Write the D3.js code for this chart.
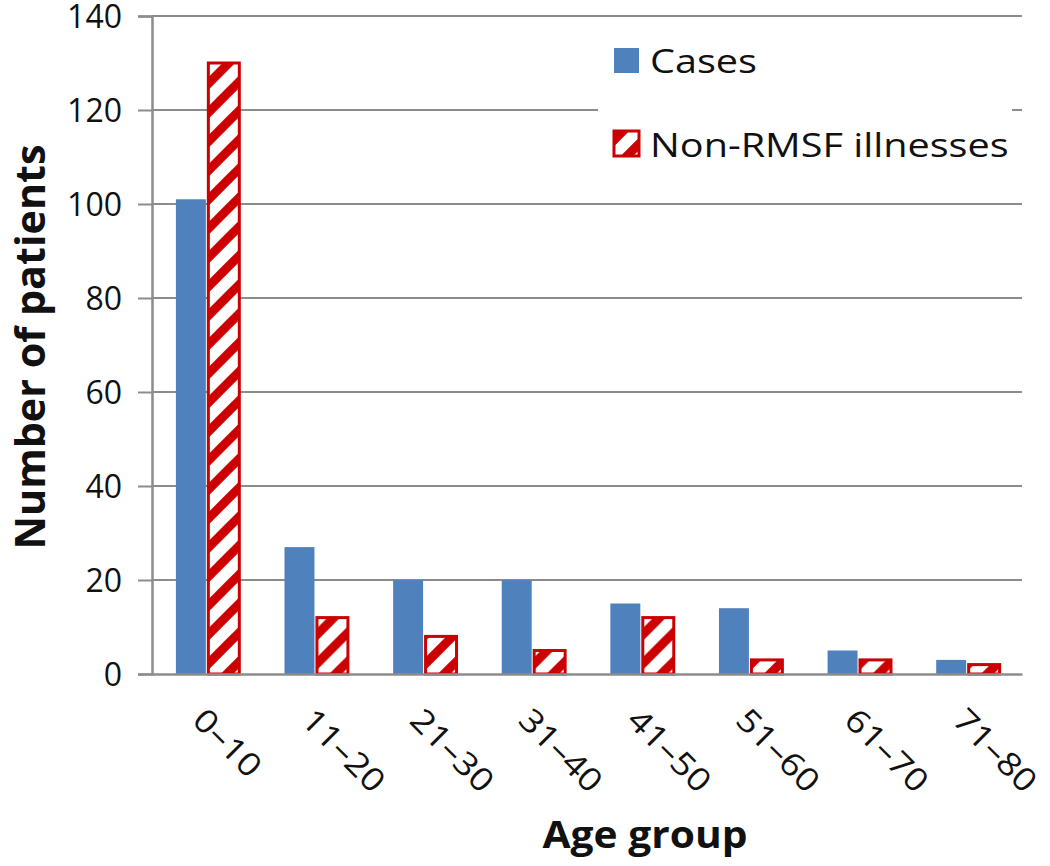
<!DOCTYPE html>
<html>
<head>
<meta charset="utf-8">
<script src="https://d3js.org/d3.v7.min.js"></script>
<style>
  body { margin: 0; background: #fff; }
  svg text { font-family: "Open Sans", sans-serif; fill: #111; }
</style>
</head>
<body>
<svg id="chart" width="1050" height="866"></svg>
<script>
// data
var ageGroups = ["0\u201310", "11\u201320", "21\u201330", "31\u201340", "41\u201350", "51\u201360", "61\u201370", "71\u201380"];
var cases = [101, 27, 20, 20, 15, 14, 5, 3];
var nonRmsf = [130, 12, 8, 5, 12, 3, 3, 2];
var seriesNames = ["Cases", "Non-RMSF illnesses"];
var yTicks = [0, 20, 40, 60, 80, 100, 120, 140];

var svg = d3.select("#chart");
var m = {left: 152, right: 1022, top: 16, bottom: 674};
var widen = 1.15;   // the reference font runs a bit wider than Open Sans

var x = d3.scaleBand().domain(ageGroups).range([m.left, m.right]).paddingInner(0.43).paddingOuter(0.22);
var x1 = d3.scaleBand().domain(seriesNames).range([0, x.bandwidth()]);
var y = d3.scaleLinear().domain([0, 140]).range([m.bottom, m.top]);

// hatch pattern for non-RMSF bars
var defs = svg.append("defs");
var pat = defs.append("pattern")
    .attr("id", "hatch")
    .attr("patternUnits", "userSpaceOnUse")
    .attr("width", 29).attr("height", 29);
pat.append("rect").attr("width", 29).attr("height", 29).attr("fill", "#fff");
pat.append("path")
    .attr("d", "M-8,37 L37,-8 M-22,22 L22,-22 M7,51 L51,7")
    .attr("stroke", "#cc0000").attr("stroke-width", 9);

// gridlines
svg.append("g")
  .selectAll("line")
  .data(yTicks.slice(1))
  .enter().append("line")
    .attr("x1", m.left).attr("x2", m.right)
    .attr("y1", function(d) { return y(d); })
    .attr("y2", function(d) { return y(d); })
    .attr("stroke", "#8c8c8c").attr("stroke-width", 2);

// y axis
var yAxis = svg.append("g")
    .attr("transform", "translate(" + m.left + ",0)")
    .call(d3.axisLeft(y).tickValues(yTicks).tickSize(14).tickPadding(16));
yAxis.select(".domain").attr("stroke", "#8c8c8c").attr("stroke-width", 2.5);
yAxis.selectAll(".tick line").attr("stroke", "#8c8c8c").attr("stroke-width", 2);
yAxis.selectAll("text").style("font-size", "32px").attr("fill", "#111").attr("dy", "0.36em");

// bars
var groups = svg.append("g")
  .selectAll("g")
  .data(ageGroups)
  .enter().append("g")
    .attr("transform", function(d) { return "translate(" + x(d) + ",0)"; });

groups.append("rect")
    .attr("x", x1("Cases"))
    .attr("width", x1.bandwidth() - 1)
    .attr("y", function(d, i) { return y(cases[i]); })
    .attr("height", function(d, i) { return y(0) - y(cases[i]); })
    .attr("fill", "#4f81bd");

groups.append("rect")
    .attr("x", x1("Non-RMSF illnesses") + 1.5)
    .attr("width", x1.bandwidth())
    .attr("y", function(d, i) { return y(nonRmsf[i]); })
    .attr("height", function(d, i) { return y(0) - y(nonRmsf[i]); })
    .attr("fill", "url(#hatch)")
    .attr("stroke", "#cc0000").attr("stroke-width", 3);

// x axis
var xAxis = svg.append("g")
    .attr("transform", "translate(0," + m.bottom + ")")
    .call(d3.axisBottom(x).tickSize(0).tickPadding(0));
xAxis.select(".domain").attr("stroke", "#8c8c8c").attr("stroke-width", 2.5);
xAxis.selectAll("text")
    .style("font-size", "32px")
    .attr("fill", "#111")
    .attr("text-anchor", "start")
    .attr("dy", 0).attr("y", 0)
    .attr("transform", "translate(-16,48) rotate(45)")
    .each(function() {
      var w = this.getComputedTextLength();
      d3.select(this).attr("textLength", w * widen).attr("lengthAdjust", "spacingAndGlyphs");
    });

// legend
var legend = svg.append("g");
legend.append("rect")
    .attr("x", 598).attr("y", 28).attr("width", 414).attr("height", 146)
    .attr("fill", "#fff");
legend.append("rect")
    .attr("x", 614).attr("y", 48).attr("width", 25).attr("height", 25)
    .attr("fill", "#4f81bd");
legend.append("rect")
    .attr("x", 614).attr("y", 131).attr("width", 25).attr("height", 25)
    .attr("fill", "url(#hatch)")
    .attr("stroke", "#cc0000").attr("stroke-width", 3);
legend.selectAll("text.lg")
  .data(seriesNames)
  .enter().append("text")
    .attr("class", "lg")
    .attr("x", 650)
    .attr("y", function(d, i) { return i === 0 ? 73 : 157; })
    .style("font-size", "33px")
    .text(function(d) { return d; })
    .each(function() {
      var w = this.getComputedTextLength();
      d3.select(this).attr("textLength", w * 1.2).attr("lengthAdjust", "spacingAndGlyphs");
    });

// axis titles
svg.append("text")
    .attr("transform", "translate(45,347) rotate(-90)")
    .attr("text-anchor", "middle")
    .attr("textLength", 405).attr("lengthAdjust", "spacingAndGlyphs")
    .style("font-size", "42px").style("font-weight", "bold")
    .text("Number of patients");

svg.append("text")
    .attr("x", 645)
    .attr("y", 848)
    .attr("text-anchor", "middle")
    .attr("textLength", 205).attr("lengthAdjust", "spacingAndGlyphs")
    .style("font-size", "37px").style("font-weight", "bold")
    .text("Age group");
</script>
</body>
</html>
